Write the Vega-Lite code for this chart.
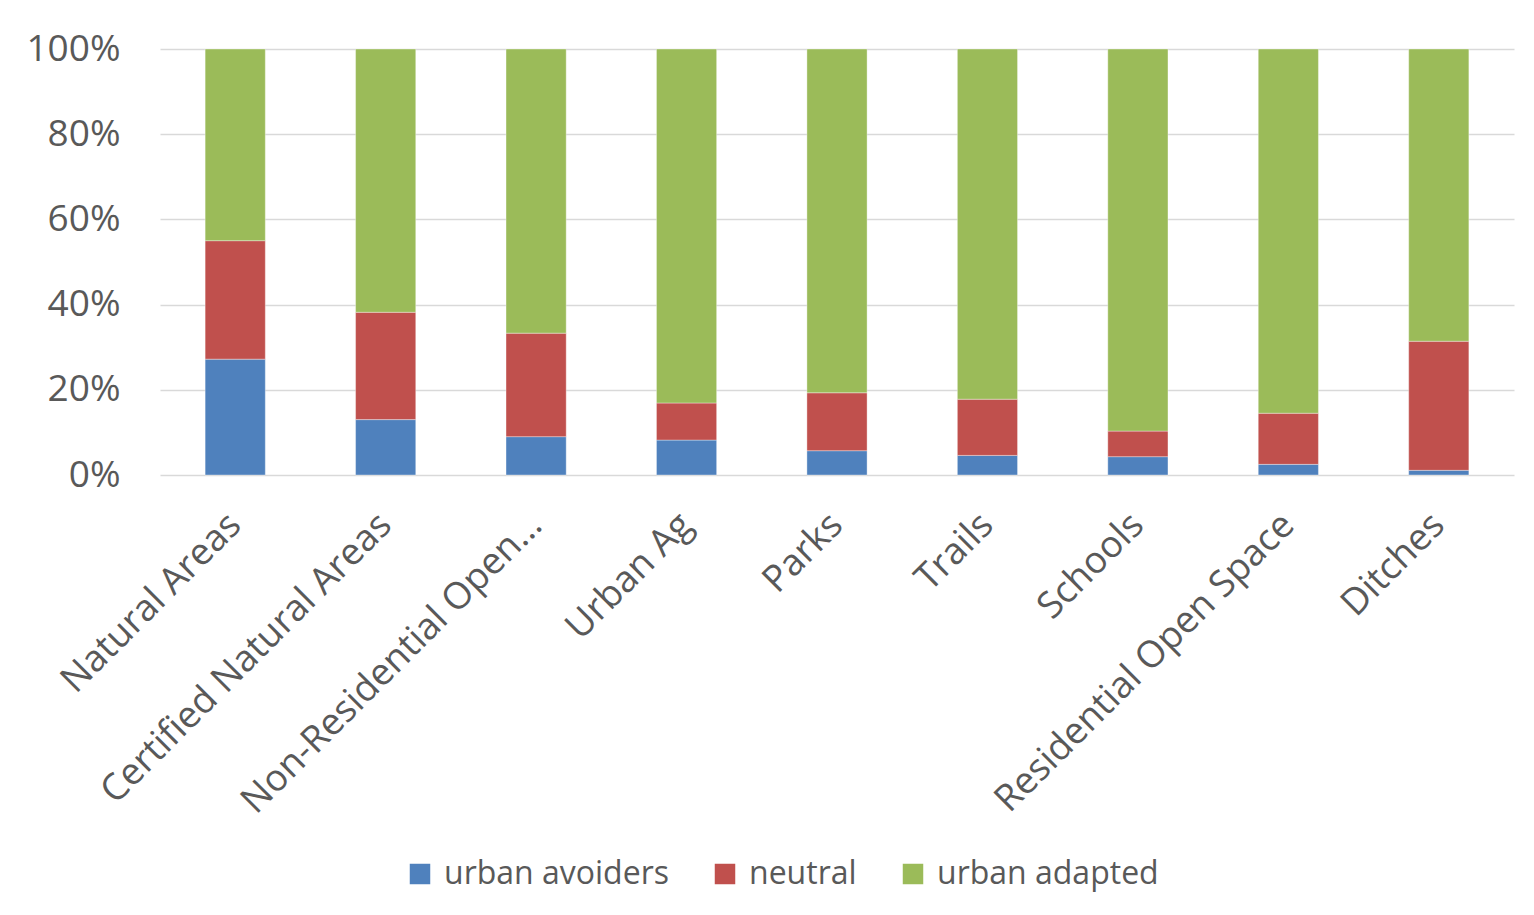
{
  "$schema": "https://vega.github.io/schema/vega-lite/v6.json",
  "autosize": {"type": "none"},
  "width": 1354,
  "height": 426,
  "padding": {"left": 160, "top": 49, "right": 20, "bottom": 440},
  "background": "white",
  "config": {
    "font": "Open Sans",
    "view": {"stroke": null},
    "axis": {"labelColor": "#595959", "labelFont": "Open Sans"}
  },
  "data": {
    "values": [
      {"site": "Natural Areas", "group": "urban avoiders", "rank": 1, "share": 0.272},
      {"site": "Natural Areas", "group": "neutral", "rank": 2, "share": 0.278},
      {"site": "Natural Areas", "group": "urban adapted", "rank": 3, "share": 0.450},
      {"site": "Certified Natural Areas", "group": "urban avoiders", "rank": 1, "share": 0.130},
      {"site": "Certified Natural Areas", "group": "neutral", "rank": 2, "share": 0.252},
      {"site": "Certified Natural Areas", "group": "urban adapted", "rank": 3, "share": 0.618},
      {"site": "Non-Residential Open Space", "group": "urban avoiders", "rank": 1, "share": 0.090},
      {"site": "Non-Residential Open Space", "group": "neutral", "rank": 2, "share": 0.243},
      {"site": "Non-Residential Open Space", "group": "urban adapted", "rank": 3, "share": 0.667},
      {"site": "Urban Ag", "group": "urban avoiders", "rank": 1, "share": 0.082},
      {"site": "Urban Ag", "group": "neutral", "rank": 2, "share": 0.087},
      {"site": "Urban Ag", "group": "urban adapted", "rank": 3, "share": 0.831},
      {"site": "Parks", "group": "urban avoiders", "rank": 1, "share": 0.057},
      {"site": "Parks", "group": "neutral", "rank": 2, "share": 0.136},
      {"site": "Parks", "group": "urban adapted", "rank": 3, "share": 0.807},
      {"site": "Trails", "group": "urban avoiders", "rank": 1, "share": 0.046},
      {"site": "Trails", "group": "neutral", "rank": 2, "share": 0.132},
      {"site": "Trails", "group": "urban adapted", "rank": 3, "share": 0.822},
      {"site": "Schools", "group": "urban avoiders", "rank": 1, "share": 0.043},
      {"site": "Schools", "group": "neutral", "rank": 2, "share": 0.060},
      {"site": "Schools", "group": "urban adapted", "rank": 3, "share": 0.897},
      {"site": "Residential Open Space", "group": "urban avoiders", "rank": 1, "share": 0.025},
      {"site": "Residential Open Space", "group": "neutral", "rank": 2, "share": 0.120},
      {"site": "Residential Open Space", "group": "urban adapted", "rank": 3, "share": 0.855},
      {"site": "Ditches", "group": "urban avoiders", "rank": 1, "share": 0.011},
      {"site": "Ditches", "group": "neutral", "rank": 2, "share": 0.303},
      {"site": "Ditches", "group": "urban adapted", "rank": 3, "share": 0.686}
    ]
  },
  "mark": {"type": "bar", "stroke": "white", "strokeWidth": 0.6, "strokeOpacity": 0.6},
  "encoding": {
    "x": {
      "field": "site",
      "type": "nominal",
      "sort": null,
      "scale": {"paddingInner": 0.6, "paddingOuter": 0.3},
      "axis": {
        "title": null,
        "labelAngle": -45,
        "labelAlign": "right",
        "labelBaseline": "middle",
        "labelFontSize": 37,
        "labelPadding": 44,
        "labelLimit": 1000,
        "labelExpr": "datum.value == 'Non-Residential Open Space' ? 'Non-Residential Open…' : datum.value",
        "ticks": false,
        "domain": false,
        "grid": false
      }
    },
    "y": {
      "field": "share",
      "type": "quantitative",
      "stack": "zero",
      "scale": {"domain": [0, 1], "nice": false},
      "axis": {
        "title": null,
        "format": ".0%",
        "values": [0, 0.2, 0.4, 0.6, 0.8, 1],
        "labelFontSize": 37,
        "labelPadding": 40,
        "ticks": false,
        "domain": false,
        "grid": true,
        "gridColor": "#d9d9d9",
        "gridWidth": 1.5
      }
    },
    "color": {
      "field": "group",
      "type": "nominal",
      "scale": {
        "domain": ["urban avoiders", "neutral", "urban adapted"],
        "range": ["#4f81bd", "#c0504d", "#9bbb59"]
      },
      "legend": {
        "title": null,
        "orient": "none",
        "direction": "horizontal",
        "legendX": 244,
        "legendY": 809,
        "symbolType": "square",
        "symbolSize": 420,
        "symbolStrokeWidth": 0,
        "labelFontSize": 32,
        "labelColor": "#595959",
        "labelFont": "Open Sans",
        "columnPadding": 40,
        "labelOffset": 8,
        "labelLimit": 400
      }
    },
    "order": {"field": "rank", "type": "quantitative"}
  }
}
